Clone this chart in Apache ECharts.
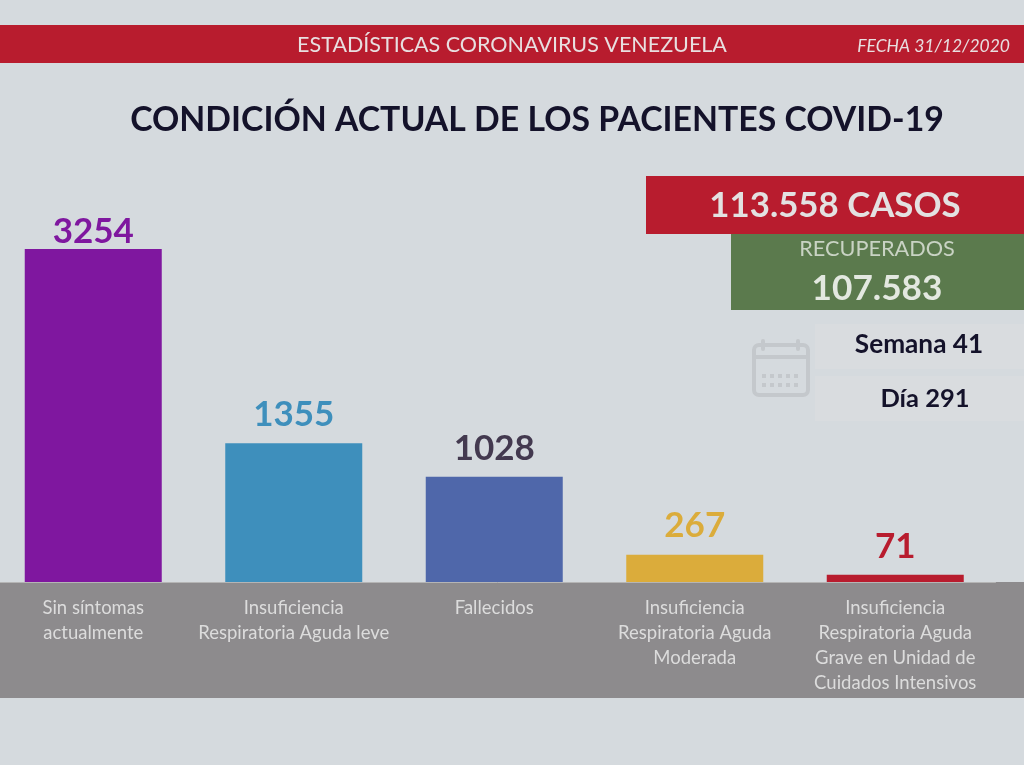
<!DOCTYPE html>
<html>
<head>
<meta charset="utf-8">
<style>
  html, body { margin: 0; padding: 0; background: #d5dade; }
  #chart { width: 1024px; height: 765px; }
</style>
<script src="https://cdn.jsdelivr.net/npm/echarts@6/dist/echarts.min.js"></script>
</head>
<body>
<div id="chart"></div>
<script>
const categories = [
  'Sin síntomas\nactualmente',
  'Insuficiencia\nRespiratoria Aguda leve',
  'Fallecidos',
  'Insuficiencia\nRespiratoria Aguda\nModerada',
  'Insuficiencia\nRespiratoria Aguda\nGrave en Unidad de\nCuidados Intensivos'
];
const values = [3254, 1355, 1028, 267, 71];
const barColors = ['#7f179f', '#3e8fbc', '#4f67aa', '#dbac3b', '#b81c2e'];
const labelColors = ['#7f179f', '#3e8fbc', '#43394f', '#dbac3b', '#b81c2e'];

const font = 'Lato, "Open Sans", sans-serif';
const iconColor = '#c4c8cc';
const chart = echarts.init(document.getElementById('chart'));

function box(left, top, width, height, fill) {
  return { type: 'rect', left, top, silent: true, shape: { width, height }, style: { fill } };
}
function label(x, y, text, size, fill, weight, align, style) {
  return {
    type: 'text', x, y, silent: true,
    style: {
      text, fill, align: align || 'center', verticalAlign: 'middle',
      font: (style || 'normal') + ' ' + (weight || 'normal') + ' ' + size + 'px ' + font
    }
  };
}

// calendario gris junto a Semana / Dia
function calendar() {
  const parts = [
    {
      type: 'rect', silent: true,
      shape: { x: 754, y: 345, width: 54, height: 50, r: 5 },
      style: { fill: 'none', stroke: iconColor, lineWidth: 4 }
    },
    box(754, 355, 54, 4, iconColor),
    {
      type: 'rect', silent: true,
      shape: { x: 761, y: 339, width: 4, height: 12, r: 2 },
      style: { fill: iconColor }
    },
    {
      type: 'rect', silent: true,
      shape: { x: 796, y: 339, width: 4, height: 12, r: 2 },
      style: { fill: iconColor }
    }
  ];
  [374, 383].forEach(y => {
    [762, 770, 778, 786, 794].forEach(x => parts.push(box(x, y, 4, 4, iconColor)));
  });
  return parts;
}

chart.setOption({
  backgroundColor: '#d5dade',
  animation: false,
  grid: {
    left: -7,
    top: 249,
    width: 1002.5,
    height: 333,
    outerBoundsMode: 'none'
  },
  xAxis: {
    type: 'category',
    data: categories,
    axisTick: { show: false },
    axisLine: { lineStyle: { color: '#b5b5b5', width: 1 } },
    axisLabel: {
      color: '#dcdcdc', fontSize: 18.5, lineHeight: 25, margin: 14,
      fontFamily: font, interval: 0
    }
  },
  yAxis: { type: 'value', min: 0, max: 3254, show: false },
  series: [{
    type: 'bar',
    barWidth: 137,
    z: 3,
    data: values.map((v, i) => ({
      value: v,
      itemStyle: { color: barColors[i] },
      label: { color: labelColors[i], distance: i === 0 ? 0 : 11 }
    })),
    label: {
      show: true, position: 'top',
      fontSize: 35, fontWeight: 'bold', fontFamily: font
    }
  }],
  graphic: [
    Object.assign(box(0, 582, 1024, 116, '#8d8b8d'), { z: 0 }),
    box(0, 25, 1024, 38, '#b81c2e'),
    label(512, 45, 'ESTADÍSTICAS CORONAVIRUS VENEZUELA', 21.5, '#e8dfe0'),
    label(1010, 46, 'FECHA 31/12/2020', 17.5, '#e8dfe0', 'normal', 'right', 'italic'),
    label(537, 120, 'CONDICIÓN ACTUAL DE LOS PACIENTES COVID-19', 33.8, '#14122a', 'bold'),
    box(646, 176, 378, 58, '#b81c2e'),
    label(835, 206, '113.558 CASOS', 34.8, '#e3e1e1', 'bold'),
    box(731, 234, 293, 76, '#5b7a4d'),
    label(877, 249, 'RECUPERADOS', 21.7, '#c9d3c4'),
    label(877, 289, '107.583', 35.2, '#e3e8e0', 'bold'),
    box(815, 324, 209, 45, '#d9dcdf'),
    box(815, 376, 209, 45, '#d9dcdf'),
    label(919, 345, 'Semana 41', 26.2, '#14122a', 'bold'),
    label(925, 399, 'Día 291', 25.5, '#14122a', 'bold')
  ].concat(calendar())
});
</script>
</body>
</html>
